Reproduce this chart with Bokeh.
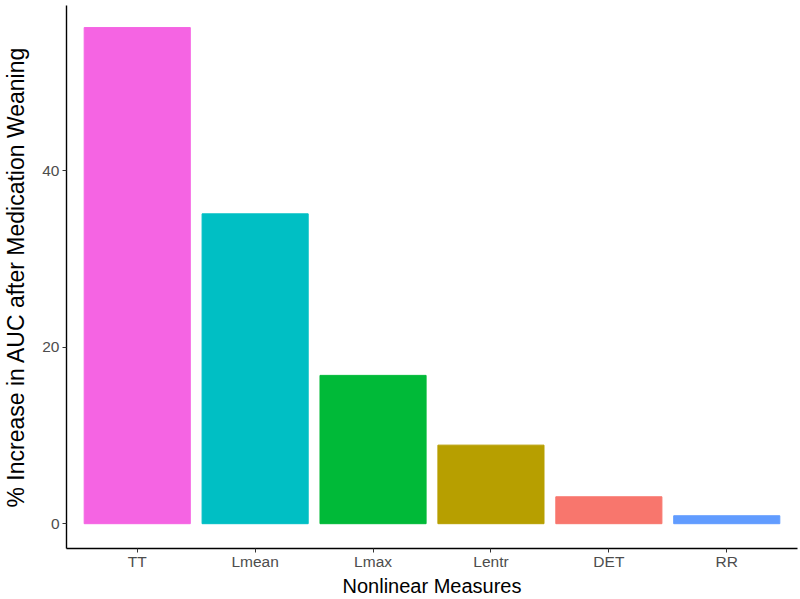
from bokeh.plotting import figure
from bokeh.models import ColumnDataSource, Range1d, FactorRange, FixedTicker
from bokeh.embed import file_html
from bokeh.resources import INLINE

measures = ["TT", "Lmean", "Lmax", "Lentr", "DET", "RR"]
increase = [56.2, 35.1, 16.8, 8.9, 3.05, 0.9]
colors = ["#F564E3", "#00BFC4", "#00BA38", "#B79F00", "#F8766D", "#619CFF"]
y_ticks = [0, 20, 40]

src = ColumnDataSource(dict(x=measures, top=increase, color=colors))

p = figure(width=800, height=599, output_backend="svg", toolbar_location=None,
           x_range=FactorRange(*measures, range_padding=0.1, range_padding_units="absolute"),
           y_range=Range1d(-2.81, 58.7),
           min_border_left=65, min_border_right=3, min_border_top=5, min_border_bottom=50)
p.vbar(x="x", top="top", bottom=0, width=0.9, color="color", source=src)

p.xgrid.visible = False
p.ygrid.visible = False
p.outline_line_color = None
p.background_fill_color = "white"

for ax in (p.xaxis[0], p.yaxis[0]):
    ax.axis_line_color = "black"
    ax.axis_line_width = 1.4
    ax.major_tick_line_color = "#333333"
    ax.major_tick_in = 0
    ax.major_tick_out = 4
    ax.minor_tick_line_color = None
    ax.major_label_text_font = "Liberation Sans"
    ax.major_label_text_font_size = "15.5px"
    ax.major_label_text_color = "#4D4D4D"
    ax.axis_label_text_font = "Liberation Sans"
    ax.axis_label_text_font_style = "normal"
    ax.axis_label_text_color = "black"

p.xaxis.axis_label_text_font_size = "20px"
p.yaxis.axis_label_text_font_size = "23px"
p.yaxis.ticker = FixedTicker(ticks=y_ticks)
p.xaxis.axis_label = "Nonlinear Measures"
p.yaxis.axis_label = "% Increase in AUC after Medication Weaning"
p.xaxis.major_label_standoff = 0
p.xaxis.axis_label_standoff = 2
p.yaxis.major_label_standoff = 3
p.yaxis.axis_label_standoff = 10

open("out.html", "w").write(file_html(p, INLINE))
